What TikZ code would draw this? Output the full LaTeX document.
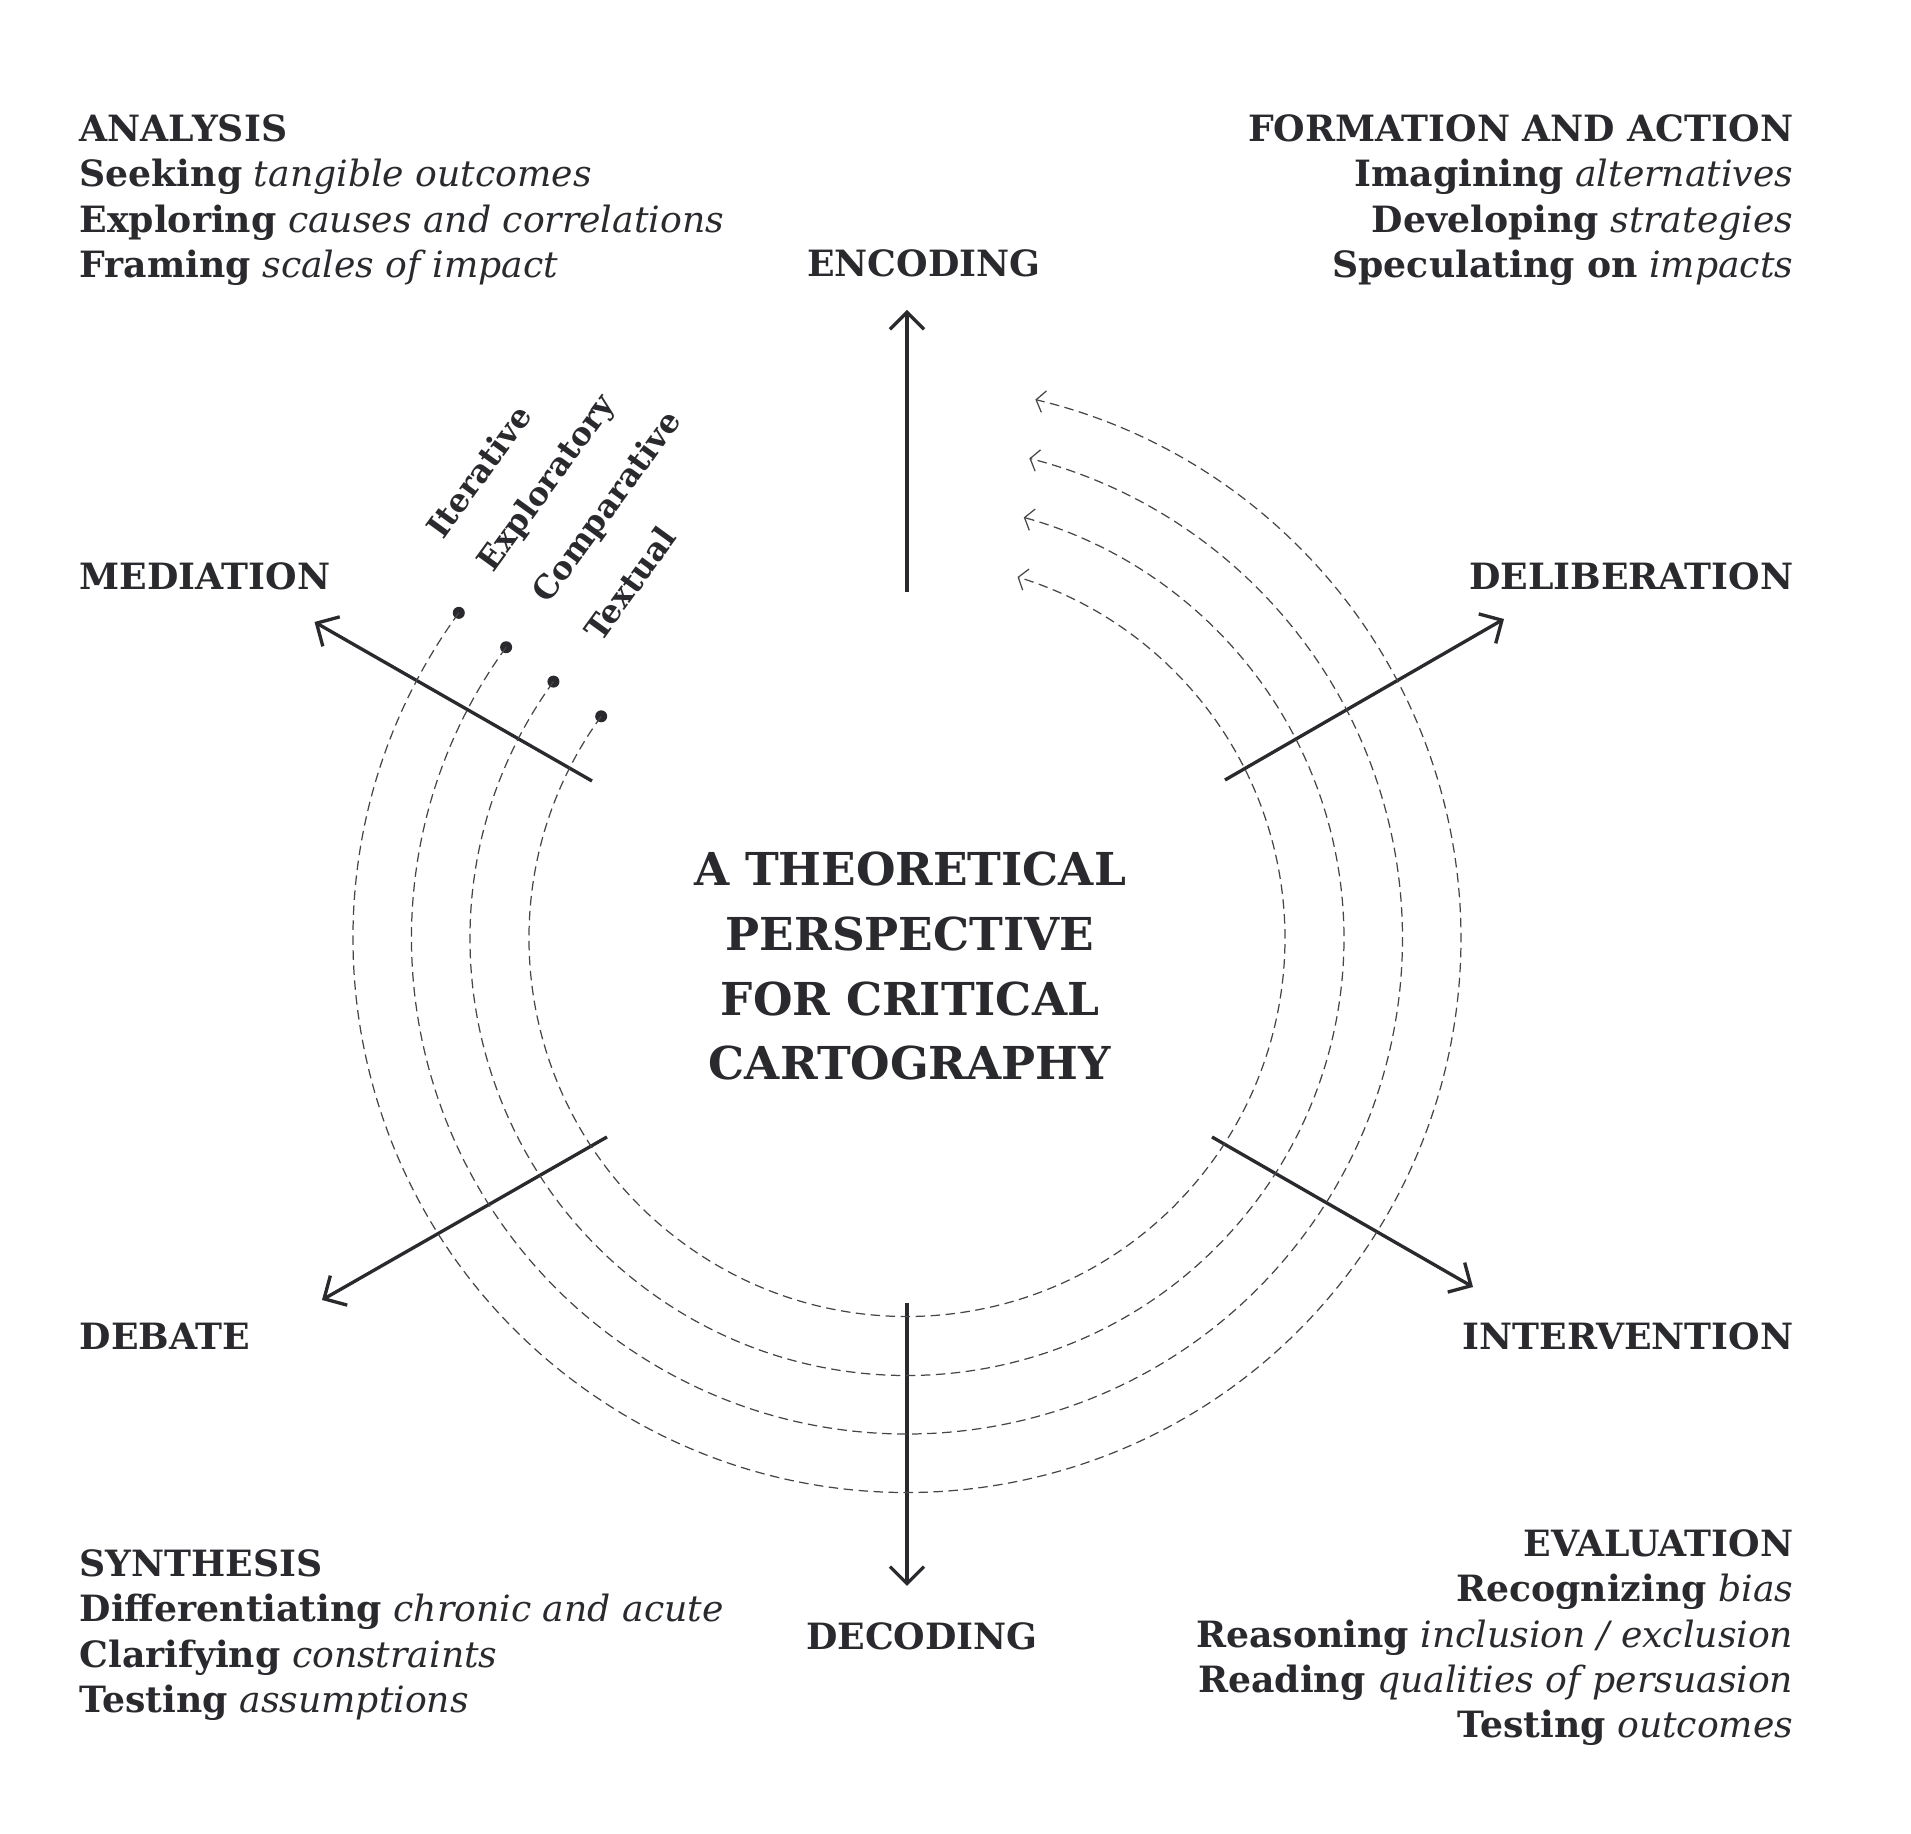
\documentclass[tikz,border=0pt]{standalone}
\usepackage{fontspec}
\setmainfont{DejaVu Serif}
\usepackage{tikz}
\usetikzlibrary{arrows.meta, positioning, calc}
\definecolor{ink}{HTML}{2A292E}
\definecolor{orbitgray}{HTML}{46454A}

\begin{document}
\begin{tikzpicture}[
    x=0.1mm, y=0.1mm,
    block/.style={font=\fontsize{10.3}{12.9}\selectfont, text=ink, inner sep=0pt},
    head/.style={font=\fontsize{10.3}{12.9}\selectfont\bfseries, text=ink, inner sep=0pt},
    title/.style={font=\fontsize{12.9}{18.4}\selectfont\bfseries, text=ink, align=center, inner sep=0pt},
    tag/.style={font=\fontsize{9.1}{10}\selectfont\bfseries, text=ink, rotate=54, anchor=west, inner sep=0pt},
    axis/.style={-{Straight Barb[length=1.7mm, width=3.4mm]}, line width=0.95pt, draw=ink},
    orbit/.style={-{Straight Barb[length=0.8mm, width=2.2mm]}, line width=0.35pt, draw=orbitgray, dash pattern=on 0.95mm off 0.55mm},
    dot/.style={circle, fill=ink, inner sep=0pt, minimum size=1.2mm}
]
\useasboundingbox (0,0) rectangle (1911,1834);

% centre of the orbits
\coordinate (hub) at (907,895.5);

% corner blocks (anchored on the baseline of their last line)
\node[block, align=left, anchor=base west] (analysis) at (79,1556.5)
  {\textbf{ANALYSIS}\\ \textbf{Seeking} \textit{tangible outcomes}\\ \textbf{Exploring} \textit{causes and correlations}\\ \textbf{Framing} \textit{scales of impact}};
\node[block, align=right, anchor=base east] (formation) at (1794,1556.5)
  {\textbf{FORMATION AND ACTION}\\ \textbf{Imagining} \textit{alternatives}\\ \textbf{Developing} \textit{strategies}\\ \textbf{Speculating on} \textit{impacts}};
\node[block, align=left, anchor=base west] (synthesis) at (79,121.5)
  {\textbf{SYNTHESIS}\\ \textbf{Differentiating} \textit{chronic and acute}\\ \textbf{Clarifying} \textit{constraints}\\ \textbf{Testing} \textit{assumptions}};
\node[block, align=right, anchor=base east] (evaluation) at (1794,96)
  {\textbf{EVALUATION}\\ \textbf{Recognizing} \textit{bias}\\ \textbf{Reasoning} \textit{inclusion / exclusion}\\ \textbf{Reading} \textit{qualities of persuasion}\\ \textbf{Testing} \textit{outcomes}};

% axis labels
\node[head, anchor=base] (encoding) at (924,1557) {ENCODING};
\node[head, anchor=base] (decoding) at (922,184) {DECODING};
\node[head, anchor=base west] (mediation) at (79,1244) {MEDIATION};
\node[head, anchor=base east] (deliberation) at (1794,1244) {DELIBERATION};
\node[head, anchor=base west] (debate) at (79,484) {DEBATE};
\node[head, anchor=base east] (intervention) at (1794,484) {INTERVENTION};

% centre title
\node[title, anchor=base] (theory) at (910,754)
  {A THEORETICAL\\ PERSPECTIVE\\ FOR CRITICAL\\ CARTOGRAPHY};

% axes
\coordinate (enc-s) at (907,1242);  \coordinate (enc-e) at (907,1524);
\coordinate (dec-s) at (907,531);   \coordinate (dec-e) at (907,248);
\coordinate (del-s) at (1225,1054); \coordinate (del-e) at (1504,1215);
\coordinate (int-s) at (1212,697);  \coordinate (int-e) at (1473,547);
\coordinate (deb-s) at (607,697);   \coordinate (deb-e) at (322,534);
\coordinate (med-s) at (592,1053);  \coordinate (med-e) at (314.5,1212);
\draw[axis] (enc-s) -- (enc-e);
\draw[axis] (dec-s) -- (dec-e);
\draw[axis] (del-s) -- (del-e);
\draw[axis] (int-s) -- (int-e);
\draw[axis] (deb-s) -- (deb-e);
\draw[axis] (med-s) -- (med-e);

% dashed orbits with their start dots
\node[dot] (it) at ($(hub)+(144:554)$) {};
\node[dot] (ex) at ($(hub)+(144:495.5)$) {};
\node[dot] (co) at ($(hub)+(144:437)$) {};
\node[dot] (te) at ($(hub)+(144:378)$) {};
\draw[orbit] (it.center) arc[start angle=144, end angle=436.6, radius=554];
\draw[orbit] (ex.center) arc[start angle=144, end angle=435.7, radius=495.5];
\draw[orbit] (co.center) arc[start angle=144, end angle=434.5, radius=437];
\draw[orbit] (te.center) arc[start angle=144, end angle=433, radius=378];

\node[tag] (it-lbl) at (433,1300) {Iterative};
\node[tag] (ex-lbl) at (486,1265) {Exploratory};
\node[tag] (co-lbl) at (541,1234) {Comparative};
\node[tag] (te-lbl) at (591,1197) {Textual};
\end{tikzpicture}
\end{document}
